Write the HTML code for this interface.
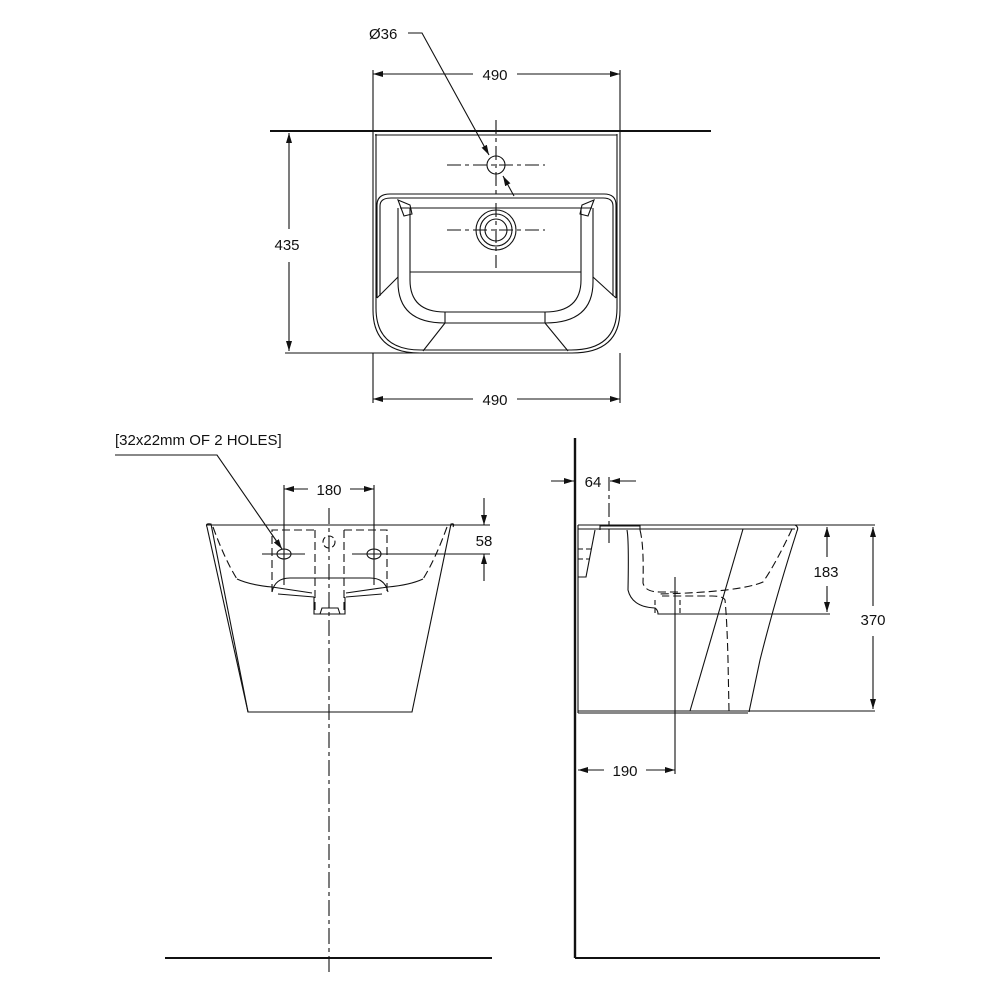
<!DOCTYPE html>
<html><head><meta charset="utf-8"><style>
html,body{margin:0;padding:0;background:#fff}
svg{display:block}
text{font-family:"Liberation Sans",sans-serif;font-size:15px;fill:#111}
</style></head><body>
<svg width="1000" height="1000" viewBox="0 0 1000 1000" xmlns="http://www.w3.org/2000/svg">
<defs>
<marker id="a" viewBox="0 0 10 6" refX="10" refY="3" markerWidth="10" markerHeight="6" orient="auto-start-reverse" markerUnits="userSpaceOnUse"><path d="M0,0 L10,3 L0,6 z" fill="#111"/></marker>
</defs>
<g fill="none" stroke="#111" stroke-width="1.1">
<!-- ===== TOP VIEW ===== -->
<line x1="270" y1="131" x2="711" y2="131" stroke-width="2"/>
<line x1="375" y1="135" x2="617" y2="135"/>
<path d="M373,131 V310 Q373,353 420,353 H572 Q620,353 620,310 V131"/>
<path d="M376,134 V308 Q376,350 421,350 H571 Q617,350 617,308 V134"/>
<line x1="373" y1="70" x2="373" y2="131"/><line x1="620" y1="70" x2="620" y2="131"/>
<line x1="373" y1="74" x2="473" y2="74" marker-start="url(#a)"/>
<line x1="517" y1="74" x2="620" y2="74" marker-end="url(#a)"/>
<line x1="373" y1="353" x2="373" y2="403"/><line x1="620" y1="353" x2="620" y2="403"/>
<line x1="373" y1="399" x2="473" y2="399" marker-start="url(#a)"/>
<line x1="517" y1="399" x2="620" y2="399" marker-end="url(#a)"/>
<line x1="285" y1="353" x2="425" y2="353"/>
<line x1="289" y1="133" x2="289" y2="229" marker-start="url(#a)"/>
<line x1="289" y1="262" x2="289" y2="351" marker-end="url(#a)"/>
<circle cx="496" cy="165" r="9"/>
<line x1="447" y1="165" x2="545" y2="165" stroke-dasharray="14,4,4,4"/>
<line x1="496" y1="120" x2="496" y2="196" stroke-dasharray="14,4,4,4"/>
<path d="M408,33 H422 L489,155" marker-end="url(#a)"/>
<line x1="514" y1="196" x2="503" y2="176" marker-end="url(#a)"/>
<path d="M377,298 V205 Q377,194 390,194 H604 Q616,194 616,205 V298"/>
<path d="M380,296 V206 Q380,198 391,198 H603 Q613,198 613,206 V296"/>
<line x1="400" y1="208" x2="592" y2="208"/>
<path d="M398,200 L410,205 L412,214 L404,216 Z"/>
<path d="M594,200 L582,205 L580,214 L588,216 Z"/>
<path d="M398,208 V282 Q398,323 445,323 H545 Q593,323 593,282 V208"/>
<path d="M410,208 V280 Q410,312 445,312 H545 Q581,312 581,280 V208"/>
<line x1="410" y1="272" x2="581" y2="272"/>
<line x1="445" y1="312" x2="445" y2="323"/><line x1="545" y1="312" x2="545" y2="323"/>
<line x1="377" y1="298" x2="398" y2="277"/><line x1="616" y1="298" x2="593" y2="277"/>
<line x1="445" y1="323" x2="423" y2="351"/><line x1="545" y1="323" x2="568" y2="351"/>
<circle cx="496" cy="230" r="20"/><circle cx="496" cy="230" r="16"/><circle cx="496" cy="230" r="11"/>
<line x1="447" y1="230" x2="545" y2="230" stroke-dasharray="14,4,4,4"/>
<line x1="496" y1="203" x2="496" y2="268" stroke-dasharray="14,4,4,4"/>

<!-- ===== FRONT VIEW ===== -->
<path d="M115,455 H217 L282,549" marker-end="url(#a)"/>
<line x1="207" y1="525" x2="490" y2="525"/>
<path d="M207,527 Q205,523 211,524 L248,712 H412 L451,524 Q455,523 453,527"/>
<path d="M207,527 L248,712"/>
<path d="M213,527 Q225,560 237,579" stroke-dasharray="8,4"/>
<path d="M447,527 Q435,560 423,579" stroke-dasharray="8,4"/>
<path d="M237,579 Q250,585 272,587 L312,593"/>
<path d="M423,579 Q410,585 388,587 L346,593"/>
<path d="M272,592 Q275,578 290,578 H370 Q385,578 388,592"/>
<path d="M278,594 L314,597"/><path d="M382,594 L346,597"/>
<path d="M272,592 V530 H315 M344,530 H387 V592" stroke-dasharray="8,4"/>
<path d="M315,530 V614 M344,530 V614" stroke-dasharray="8,4"/>
<path d="M314,597 Q314,600 314,614 H345 V597"/>
<path d="M320,614 L322,608 H338 L340,614"/>
<circle cx="329" cy="542" r="6" stroke-dasharray="6,3"/>
<ellipse cx="284" cy="554" rx="7" ry="5"/><ellipse cx="374" cy="554" rx="7" ry="5"/>
<line x1="262" y1="554" x2="305" y2="554"/><line x1="352" y1="554" x2="490" y2="554"/>
<line x1="329" y1="508" x2="329" y2="975" stroke-dasharray="16,4,4,4"/>
<line x1="284" y1="485" x2="284" y2="585"/><line x1="374" y1="485" x2="374" y2="585"/>
<line x1="284" y1="489" x2="308" y2="489" marker-start="url(#a)"/>
<line x1="350" y1="489" x2="374" y2="489" marker-end="url(#a)"/>
<line x1="484" y1="498" x2="484" y2="525" marker-end="url(#a)"/>
<line x1="484" y1="581" x2="484" y2="554" marker-end="url(#a)"/>
<line x1="165" y1="958" x2="492" y2="958" stroke-width="2"/>

<!-- ===== SIDE VIEW ===== -->
<line x1="575" y1="438" x2="575" y2="958" stroke-width="2.4"/>
<line x1="575" y1="958" x2="880" y2="958" stroke-width="2"/>
<line x1="578" y1="525" x2="875" y2="525"/>
<line x1="578" y1="529" x2="795" y2="529"/>
<line x1="578" y1="711" x2="875" y2="711"/>
<line x1="578" y1="713" x2="748" y2="713"/>
<line x1="578" y1="525" x2="578" y2="713"/>
<path d="M795,525 Q799,527 797,531 Q775,600 760,660 L749,712"/>
<path d="M792,529 Q775,565 763,582 Q740,592 660,594" stroke-dasharray="8,4"/>
<line x1="743" y1="529" x2="690" y2="711"/>
<path d="M729,711 L728,660 Q727,620 725,600 Q723,596 712,596 H662" stroke-dasharray="8,4"/>
<path d="M595,530 L586,577 H578" />
<path d="M578,549 H592 M578,559 H590" stroke-dasharray="5,3"/>
<path d="M600,530 V526 H640 V530"/>
<path d="M627,530 Q629,540 628,590 Q632,607 655,608 Q658,610 658,614 H730"/>
<path d="M640,530 Q644,545 643,583 Q645,592 660,592 H680" stroke-dasharray="8,4"/>
<path d="M655,600 V614 M680,600 V614" stroke-dasharray="5,3"/>
<line x1="660" y1="614" x2="830" y2="614"/>
<line x1="675" y1="577" x2="675" y2="774"/>
<line x1="609" y1="477" x2="609" y2="545" stroke-dasharray="14,4,4,4"/>
<line x1="551" y1="481" x2="574" y2="481" marker-end="url(#a)"/>
<line x1="636" y1="481" x2="610" y2="481" marker-end="url(#a)"/>
<line x1="827" y1="527" x2="827" y2="557" marker-start="url(#a)"/>
<line x1="827" y1="586" x2="827" y2="612" marker-end="url(#a)"/>
<line x1="873" y1="527" x2="873" y2="606" marker-start="url(#a)"/>
<line x1="873" y1="636" x2="873" y2="709" marker-end="url(#a)"/>
<line x1="578" y1="770" x2="604" y2="770" marker-start="url(#a)"/>
<line x1="646" y1="770" x2="675" y2="770" marker-end="url(#a)"/>
</g>
<g>
<text x="369" y="39">Ø36</text>
<text x="495" y="80" text-anchor="middle">490</text>
<text x="495" y="405" text-anchor="middle">490</text>
<text x="287" y="250" text-anchor="middle">435</text>
<text x="115" y="445">[32x22mm OF 2 HOLES]</text>
<text x="329" y="495" text-anchor="middle">180</text>
<text x="484" y="546" text-anchor="middle">58</text>
<text x="593" y="487" text-anchor="middle">64</text>
<text x="826" y="577" text-anchor="middle">183</text>
<text x="873" y="625" text-anchor="middle">370</text>
<text x="625" y="776" text-anchor="middle">190</text>
</g>
</svg>
</body></html>
